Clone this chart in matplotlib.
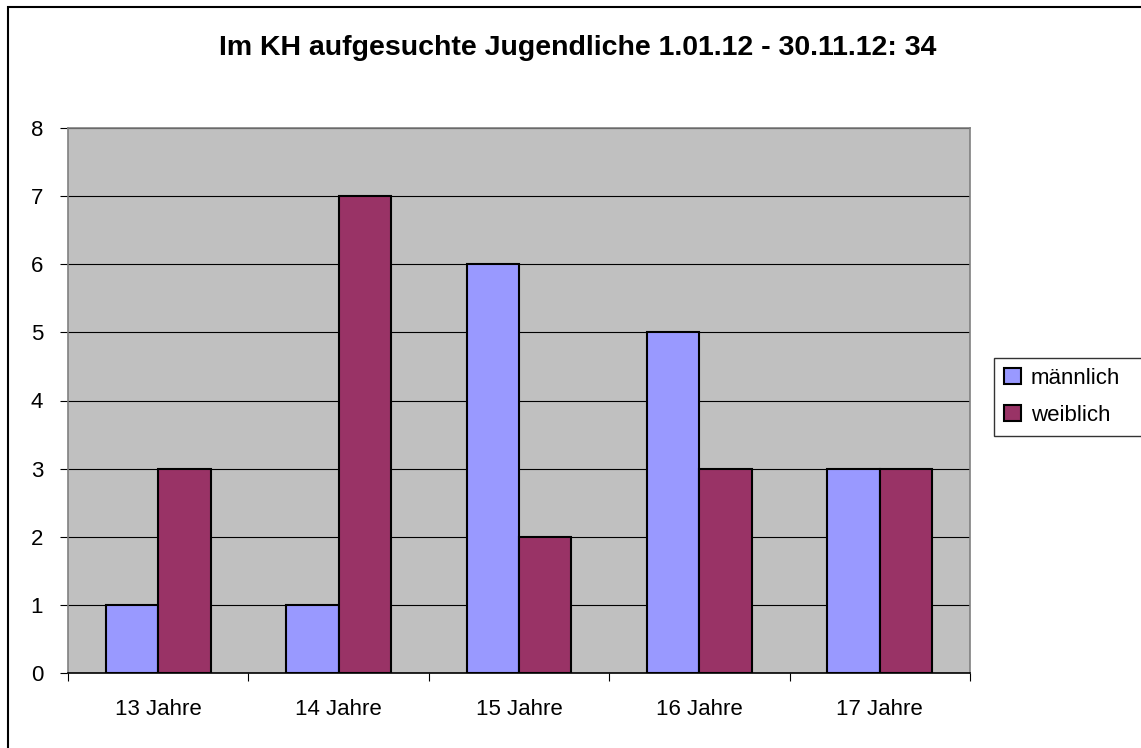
import matplotlib
matplotlib.use("Agg")
import matplotlib.pyplot as plt
import numpy as np
from matplotlib.patches import Rectangle

categories = ["13 Jahre", "14 Jahre", "15 Jahre", "16 Jahre", "17 Jahre"]
maennlich = [1, 1, 6, 5, 3]
weiblich = [3, 7, 2, 3, 3]
series_names = ["männlich", "weiblich"]
title = "Im KH aufgesuchte Jugendliche 1.01.12 - 30.11.12: 34"

plt.rcParams['font.family'] = ['Liberation Sans', 'DejaVu Sans']

W, H = 1141, 748
fig = plt.figure(figsize=(W / 100, H / 100), dpi=100)
# outer chart border (extends past right/bottom edges of the image)
fig.patches.append(Rectangle((7.5 / W, -0.05), 1.1, 1 - 7.5 / H + 0.05, transform=fig.transFigure,
                             fill=False, edgecolor='black', linewidth=1.5))
ax = fig.add_axes([68 / W, 75 / H, 902 / W, 545 / H])
ax.set_facecolor('#C0C0C0')

x = np.arange(len(categories))
w = 0.29
ax.bar(x - w/2, maennlich, w, color='#9999FF', edgecolor='black', linewidth=1.5, label=series_names[0], zorder=3)
ax.bar(x + w/2, weiblich, w, color='#993366', edgecolor='black', linewidth=1.5, label=series_names[1], zorder=3)

ax.set_xlim(-0.5, len(categories) - 0.5)
ax.set_ylim(0, 8)
ax.set_yticks(range(0, 9))
ax.yaxis.grid(True, color='black', linewidth=0.8, zorder=1)
ax.set_axisbelow(True)
ax.set_xticks(np.arange(-0.5, len(categories), 1.0), minor=False)
ax.set_xticklabels([])
ax.set_xticks(x, minor=True)
ax.set_xticklabels(categories, minor=True)
ax.tick_params(axis='x', which='minor', length=0, pad=19, labelsize=16)
ax.tick_params(axis='x', which='major', length=6, color='black', direction='out')
ax.tick_params(axis='y', length=6, labelsize=16, pad=12)

for s in ['top', 'right', 'left']:
    ax.spines[s].set_color('#808080')
    ax.spines[s].set_linewidth(1.2)
ax.spines['bottom'].set_color('black')
ax.spines['bottom'].set_linewidth(1.2)

fig.text(578 / W, 1 - 55 / H, title, ha='center', va='baseline', fontsize=20.5, fontweight='bold')

leg = ax.legend(loc='upper left', bbox_to_anchor=(994 / W, 1 - 439 / H, 0.25, 81 / H),
                bbox_transform=fig.transFigure, mode='expand', borderaxespad=0,
                fontsize=16, frameon=True, fancybox=False, edgecolor='black',
                handlelength=0.75, handleheight=0.75, handletextpad=0.45, borderpad=0.45,
                labelspacing=0.7)
leg.get_frame().set_linewidth(1.0)

fig.savefig('out.png', dpi=100)
